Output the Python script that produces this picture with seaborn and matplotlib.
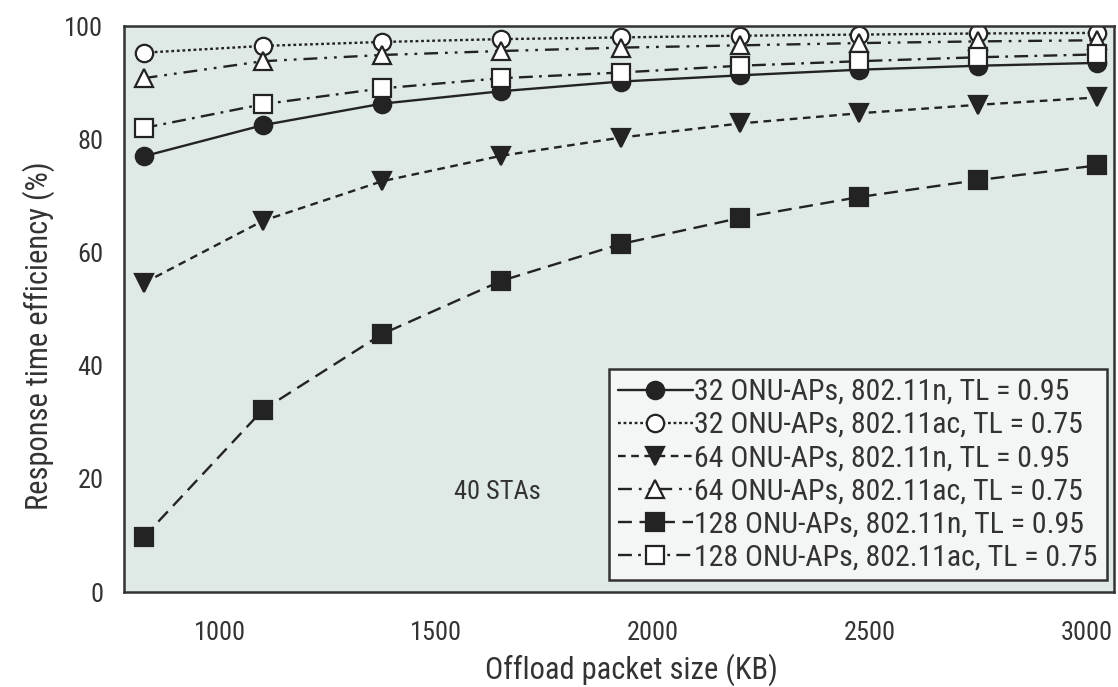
import matplotlib
matplotlib.use("Agg")
import matplotlib.pyplot as plt
import seaborn as sns
import pandas as pd
from matplotlib import font_manager

# ---- data ----
packet_size = [825, 1100, 1375, 1650, 1925, 2200, 2475, 2750, 3025]
eff_32_n = [77.0, 82.5, 86.3, 88.5, 90.2, 91.3, 92.3, 93.0, 93.5]
eff_32_ac = [95.3, 96.5, 97.2, 97.7, 98.0, 98.3, 98.5, 98.7, 98.8]
eff_64_n = [54.6, 65.6, 72.6, 77.1, 80.3, 82.8, 84.6, 86.1, 87.4]
eff_64_ac = [90.8, 93.8, 94.9, 95.6, 96.2, 96.6, 97.0, 97.3, 97.5]
eff_128_n = [9.7, 32.2, 45.6, 55.0, 61.5, 66.1, 69.8, 72.8, 75.4]
eff_128_ac = [82.0, 86.2, 89.0, 90.8, 91.8, 93.0, 93.8, 94.5, 95.0]

labels = [
    "32 ONU-APs, 802.11n, TL = 0.95",
    "32 ONU-APs, 802.11ac, TL = 0.75",
    "64 ONU-APs, 802.11n, TL = 0.95",
    "64 ONU-APs, 802.11ac, TL = 0.75",
    "128 ONU-APs, 802.11n, TL = 0.95",
    "128 ONU-APs, 802.11ac, TL = 0.75",
]
series = [eff_32_n, eff_32_ac, eff_64_n, eff_64_ac, eff_128_n, eff_128_ac]

x_ticks = [1000, 1500, 2000, 2500, 3000]
y_ticks = [0, 20, 40, 60, 80, 100]

# ---- style ----
sns.set_theme(style="white")
avail = {f.name for f in font_manager.fontManager.ttflist}
fam = [f for f in ["Liberation Sans Narrow", "Roboto Condensed", "DejaVu Sans"] if f in avail]
plt.rcParams["font.family"] = fam + ["DejaVu Sans"]
plt.rcParams["lines.scale_dashes"] = False

ink = "#232323"
txt = "#333333"
styles = [
    dict(marker="o", mfc=ink, ls="-", ms=12.5),
    dict(marker="o", mfc="white", ls=(0, (2, 2)), ms=12.5),
    dict(marker="v", mfc=ink, ls=(0, (5.5, 4)), ms=13.5),
    dict(marker="^", mfc="white", ls=(0, (10, 5, 2, 5, 2, 5)), ms=13.5),
    dict(marker="s", mfc=ink, ls=(0, (10, 5.5)), ms=12.5),
    dict(marker="s", mfc="white", ls=(0, (10, 4.5, 2, 4.5)), ms=12.5),
]

fig = plt.figure(figsize=(11.18, 6.87), dpi=100)
ax = fig.add_axes([0.111, 0.138, 0.885, 0.824])
ax.set_facecolor("#dfe9e5")

for vals, lab, st in zip(series, labels, styles):
    df = pd.DataFrame({"x": packet_size, "y": vals})
    sns.lineplot(data=df, x="x", y="y", ax=ax, color=ink, linewidth=1.7,
                 marker=st["marker"], markersize=st["ms"],
                 markerfacecolor=st["mfc"], markeredgecolor=ink,
                 markeredgewidth=1.6, linestyle=st["ls"], label=lab)

ax.set_xlim(780, 3062)
ax.set_ylim(0, 100)
ax.set_xticks(x_ticks)
ax.set_yticks(y_ticks)
ax.tick_params(axis="both", direction="out", length=9, width=1.5, colors=txt,
               labelsize=19, labelcolor=txt)
ax.tick_params(axis="x", pad=12)
ax.tick_params(axis="y", pad=6)
for sp in ax.spines.values():
    sp.set_color(txt)
    sp.set_linewidth(1.8)

ax.set_xlabel("Offload packet size (KB)", fontsize=22, color=txt)
ax.set_ylabel("Response time efficiency (%)", fontsize=22, color=txt)
ax.xaxis.set_label_coords(0.513, -0.108)
ax.yaxis.set_label_coords(-0.07, 0.454)

ax.text(1640, 17.7, "40 STAs", fontsize=19, color=txt, ha="center", va="center")

leg = ax.legend(loc="lower right", bbox_to_anchor=(0.993, 0.021), borderaxespad=0,
                fontsize=21.5, handlelength=2.5, handletextpad=0.05, labelspacing=0.17,
                borderpad=0.3, fancybox=False, framealpha=1, facecolor="#f3f6f4",
                edgecolor=txt)
leg.get_frame().set_linewidth(1.8)
for t in leg.get_texts():
    t.set_color(txt)

fig.savefig("out.png", dpi=100)
